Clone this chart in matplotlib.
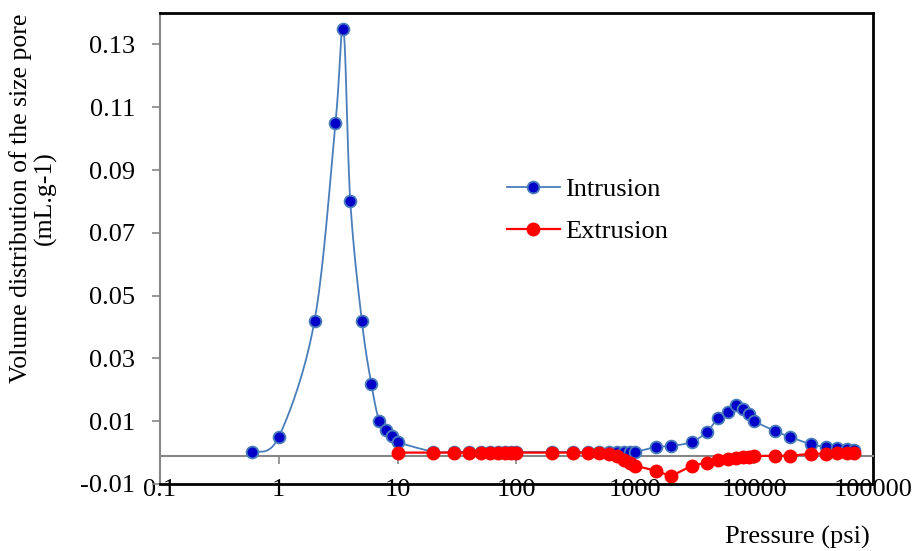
import numpy as np
import matplotlib.pyplot as plt
from matplotlib.lines import Line2D

plt.rcParams["font.family"] = ["Liberation Serif", "DejaVu Serif"]

# intrusion series (pressure in psi, volume mL/g)
intr_p = [0.6, 1, 2, 3, 3.5, 4, 5, 6, 7, 8, 9, 10,
          20, 30, 40, 50, 60, 70, 80, 90, 100, 200, 300, 400, 500,
          600, 700, 800, 900, 1000, 1500, 2000, 3000, 4000, 5000, 6000,
          7000, 8000, 9000, 10000, 15000, 20000, 30000, 40000, 50000,
          60000, 70000]
intr_v = [0.0003, 0.005, 0.042, 0.105, 0.135, 0.080, 0.042, 0.022, 0.010,
          0.0072, 0.0053, 0.0034,
          0.0003, 0.0003, 0.0002, 0.0002, 0.0002, 0.0002, 0.0002, 0.0002,
          0.0002, 0.0002, 0.0002, 0.0002, 0.0002,
          0.0002, 0.0002, 0.0002, 0.0002, 0.0002, 0.0018, 0.0021, 0.0034,
          0.0066, 0.011, 0.013, 0.015, 0.0139, 0.0123, 0.0101, 0.0069,
          0.005, 0.0027, 0.0018, 0.0015, 0.0012, 0.0008]

# extrusion series
extr_p = [10, 20, 30, 40, 50, 60, 70, 80, 90, 100, 200, 300, 400, 500,
          600, 700, 800, 900, 1000, 1500, 2000, 3000, 4000, 5000, 6000,
          7000, 8000, 9000, 10000, 15000, 20000, 30000, 40000, 50000,
          60000, 70000]
extr_v = [0, 0, 0, 0, 0, 0, 0, 0, 0, 0, 0, 0, 0, 0,
          -0.0006, -0.0012, -0.0022, -0.0032, -0.0042, -0.0058, -0.0075,
          -0.0042, -0.0032, -0.0024, -0.002, -0.0017, -0.0015, -0.0013,
          -0.0011, -0.001, -0.001, -0.0004, -0.0003, -0.0002, -0.0001, 0]

y_ticks = [-0.01, 0.01, 0.03, 0.05, 0.07, 0.09, 0.11, 0.13]
x_ticks = [0.1, 1, 10, 100, 1000, 10000, 100000]
x_ticklabels = ["0.1", "1", "10", "100", "1000", "10000", "100000"]

BLUE_LINE = "#4a7ebb"
BLUE_FILL = "#0000c8"
RED = "#ff0000"
GRAY = "#868686"
FS = 19


def smooth(xs, ys, n=20):
    """Excel-like smoothed line (Catmull-Rom bezier) in log-x space."""
    lx = np.log10(xs)
    y = np.asarray(ys, dtype=float)
    px = np.concatenate([[lx[0]], lx, [lx[-1]]])
    py = np.concatenate([[y[0]], y, [y[-1]]])
    out_x, out_y = [], []
    t = np.linspace(0, 1, n)
    for i in range(1, len(px) - 2):
        p0 = np.array([px[i], py[i]])
        p3 = np.array([px[i + 1], py[i + 1]])
        c1 = p0 + (np.array([px[i + 1], py[i + 1]]) - np.array([px[i - 1], py[i - 1]])) / 6
        c2 = p3 - (np.array([px[i + 2], py[i + 2]]) - np.array([px[i], py[i]])) / 6
        b = ((1 - t) ** 3)[:, None] * p0 + (3 * (1 - t) ** 2 * t)[:, None] * c1 \
            + (3 * (1 - t) * t ** 2)[:, None] * c2 + (t ** 3)[:, None] * p3
        out_x.extend(b[:, 0])
        out_y.extend(b[:, 1])
    return 10 ** np.array(out_x), np.array(out_y)


fig = plt.figure(figsize=(9.14, 5.51), dpi=100)
ax = fig.add_axes([0.175, 0.1216, 0.78, 0.8548])

sx, sy = smooth(intr_p, intr_v)
ax.plot(sx, sy, color=BLUE_LINE, lw=1.3, zorder=3)
ax.plot(intr_p, intr_v, ls="none", marker="o", ms=8.5, mfc=BLUE_FILL,
        mec=BLUE_LINE, mew=1.3, zorder=4)
ax.plot(extr_p, extr_v, color=RED, lw=1.6, marker="o", ms=9, mfc=RED,
        mec=RED, zorder=5)

ax.set_xscale("log")
ax.set_xlim(0.1, 100000)
ax.set_ylim(-0.01, 0.14)

# spines: gray left, gray horizontal axis near zero, black frame elsewhere
ax.spines["left"].set_color(GRAY)
ax.spines["left"].set_linewidth(1.5)
ax.spines["bottom"].set_position(("data", -0.001))
ax.spines["bottom"].set_color(GRAY)
ax.spines["bottom"].set_linewidth(1.5)
for s in ["top", "right"]:
    ax.spines[s].set_color("black")
    ax.spines[s].set_linewidth(2)
ax.axhline(-0.01, color="black", lw=2, clip_on=False, zorder=6)

ax.set_yticks(y_ticks)
ax.set_yticklabels([f"{v:.2f}" for v in y_ticks])
ax.set_xticks(x_ticks)
ax.set_xticklabels(x_ticklabels)
ax.xaxis.set_minor_locator(plt.NullLocator())
ax.tick_params(axis="y", direction="out", length=6, width=1.2, color=GRAY,
               labelsize=FS, pad=12)
ax.tick_params(axis="x", direction="out", length=6, width=1.2, color=GRAY,
               labelsize=FS, pad=11)

fig.text(0.036, 0.64, "Volume distribution of the size pore\n(mL.g-1)",
         rotation=90, ha="center", va="center", fontsize=18.5,
         multialignment="center", linespacing=1.1)
fig.text(0.872, 0.025, "Pressure (psi)", ha="center", va="center", fontsize=FS)

handles = [
    Line2D([], [], color=BLUE_LINE, lw=1.3, marker="o", ms=8.5,
           mfc=BLUE_FILL, mec=BLUE_LINE, mew=1.3),
    Line2D([], [], color=RED, lw=1.6, marker="o", ms=9, mfc=RED, mec=RED),
]
ax.legend(handles, ["Intrusion", "Extrusion"], loc="upper left",
          bbox_to_anchor=(507 / 914, 1 - 178 / 551),
          bbox_transform=fig.transFigure, frameon=False, fontsize=FS,
          handlelength=2.0, handletextpad=0.2, labelspacing=0.68,
          borderpad=0, borderaxespad=0)

fig.savefig("out.png", dpi=100)
